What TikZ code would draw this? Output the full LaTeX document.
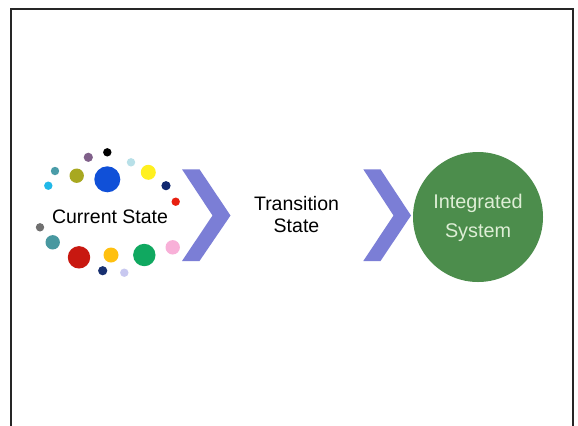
\documentclass[tikz,border=0pt]{standalone}
\usepackage{fontspec}
\setmainfont{Liberation Sans}
\definecolor{chev}{RGB}{123,126,214}
\definecolor{circgreen}{RGB}{76,141,76}
\definecolor{paletext}{RGB}{222,238,214}
\begin{document}
\begin{tikzpicture}[x=1bp,y=-1bp,
  lbl/.style={font=\fontsize{19.5bp}{22bp}\selectfont, text=black, align=center, inner sep=0pt},
  circlbl/.style={font=\fontsize{19.8bp}{29.5bp}\selectfont, text=paletext, align=center, inner sep=0pt},
  chevron/.style={fill=chev, draw=none},
  dot/.style={draw=none}]
\useasboundingbox (0,0) rectangle (578,425);
\fill[white] (0,0) rectangle (578,425);
% frame (open at the bottom)
\draw[line width=1.5bp, black!85] (11,430) -- (11,9) -- (573,9) -- (573,430);
% dots around current state
\foreach \x/\y/\r/\c in {
  107.3/152.3/4.2/black,
  88.3/157.3/4.6/{rgb,255:red,128;green,96;blue,138},
  131/162.3/4.2/{rgb,255:red,184;green,224;blue,232},
  55/171/4.2/{rgb,255:red,74;green,156;blue,168},
  76.7/175.7/7.2/{rgb,255:red,168;green,168;blue,32},
  107.3/179.3/13/{rgb,255:red,16;green,80;blue,216},
  148.3/172.3/7.5/{rgb,255:red,255;green,240;blue,32},
  48.3/185.7/4.2/{rgb,255:red,32;green,184;blue,232},
  166/185.7/4.6/{rgb,255:red,16;green,40;blue,112},
  175.7/201.7/4.2/{rgb,255:red,232;green,32;blue,16},
  40/227.3/4.2/{rgb,255:red,112;green,112;blue,112},
  52.7/242.3/7.2/{rgb,255:red,72;green,152;blue,160},
  79/257.3/11.2/{rgb,255:red,200;green,24;blue,16},
  111/255/7.5/{rgb,255:red,255;green,192;blue,16},
  144.3/255/11.2/{rgb,255:red,16;green,168;blue,96},
  172.7/247.3/7.2/{rgb,255:red,248;green,176;blue,216},
  102.7/270.7/4.6/{rgb,255:red,24;green,48;blue,112},
  124.3/272.7/4.2/{rgb,255:red,200;green,200;blue,240}}
  \fill[dot, fill=\c] (\x,\y) circle[radius=\r];
\node[lbl] (current) at (110,216.5) {Current State};
% chevrons
\fill[chevron] (182,169.3) -- (199.5,169.3) -- (230.5,215.5) -- (199.5,261) -- (182,261) -- (212.5,215.5) -- cycle;
\fill[chevron] (363.3,169.3) -- (380.5,169.3) -- (411,215.5) -- (380.5,261) -- (363.3,261) -- (393.5,215.5) -- cycle;
\node[lbl] (transition) at (296.5,215) {Transition\\State};
% integrated system circle
\node[circle, fill=circgreen, minimum size=130bp, inner sep=0pt] (integrated) at (478,217) {};
\node[circlbl] (integratedtext) at (478,218) {Integrated\\System};
\end{tikzpicture}
\end{document}
